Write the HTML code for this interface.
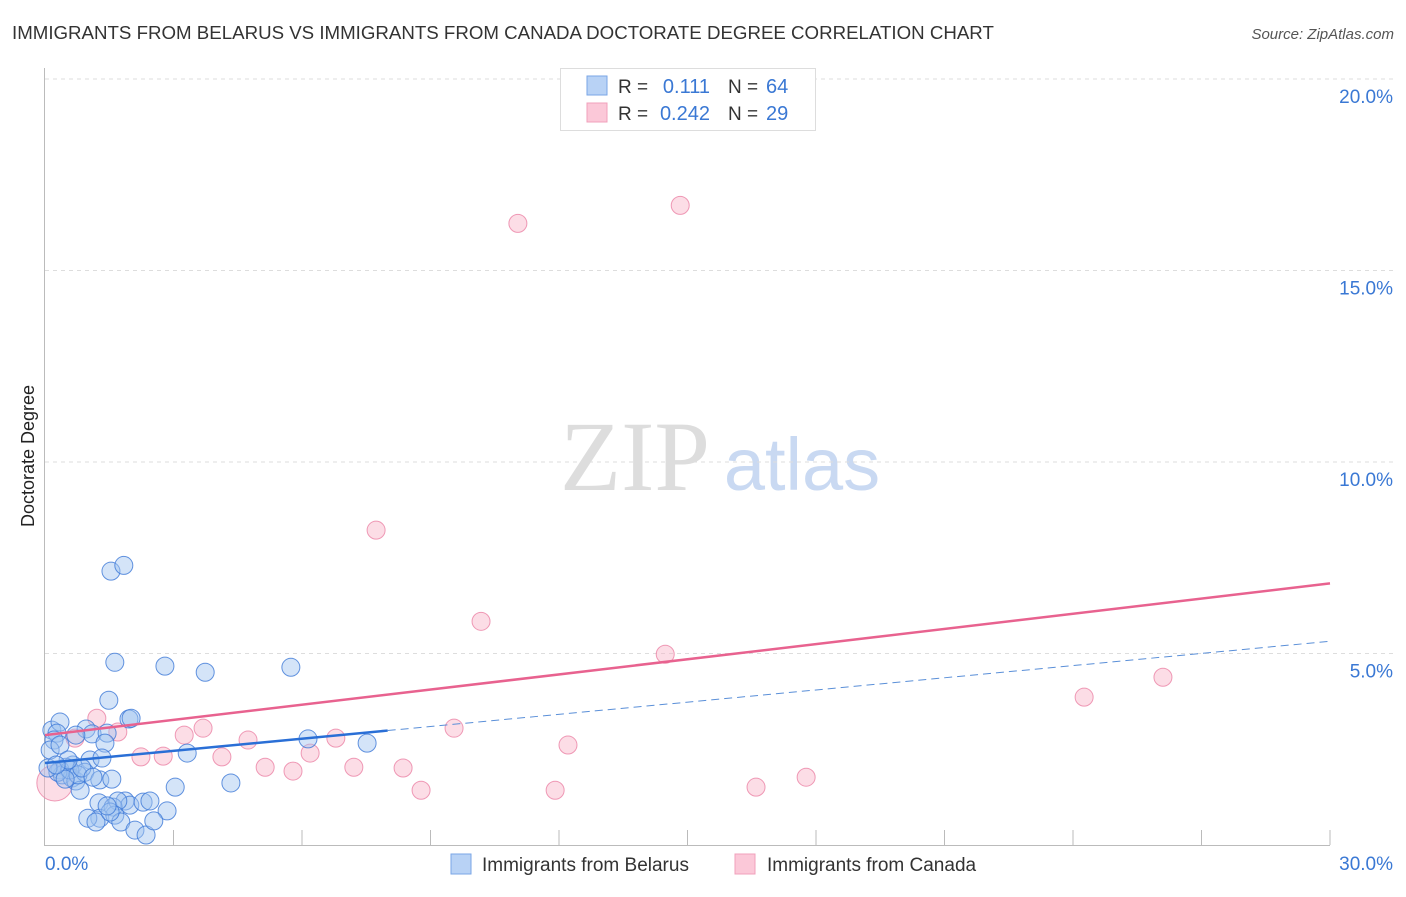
<!DOCTYPE html>
<html><head><meta charset="utf-8">
<style>
body{margin:0;background:#fff;font-family:"Liberation Sans",sans-serif;}
</style></head>
<body>
<svg id="chart" width="1406" height="892" viewBox="0 0 1406 892" xmlns="http://www.w3.org/2000/svg" font-family="Liberation Sans, sans-serif">
<text x="12" y="39" font-size="18.7" fill="#333">IMMIGRANTS FROM BELARUS VS IMMIGRANTS FROM CANADA DOCTORATE DEGREE CORRELATION CHART</text>
<text x="1394" y="39" font-size="15" fill="#555" font-style="italic" text-anchor="end">Source: ZipAtlas.com</text>
<text x="0" y="0" transform="translate(34,456) rotate(-90)" font-size="18" fill="#222" text-anchor="middle">Doctorate Degree</text>
<g>
<text x="635" y="490" font-size="100" fill="#ddd" style="font-family:'Liberation Serif',serif" text-anchor="middle">ZIP</text>
<text x="802" y="490" font-size="74" fill="#c9d9f2" text-anchor="middle">atlas</text>
</g>
<g id="grid"></g>
<g id="marks"></g>
<g id="lines"></g>
<g>
<rect x="560.5" y="68.5" width="255" height="62" fill="#fff" stroke="#ddd"/>
<rect x="587" y="76" width="20" height="19" fill="#b8d2f5" stroke="#7aa6e6"/>
<rect x="587" y="103" width="20" height="19" fill="#fbc8d8" stroke="#f0a0bb"/>
<text x="618" y="93" font-size="19" fill="#333">R = </text><text x="710" y="93" font-size="20" fill="#3a78d4" text-anchor="end">0.111</text>
<text x="728" y="93" font-size="19" fill="#333">N = </text><text x="766" y="93" font-size="20" fill="#3a78d4">64</text>
<text x="618" y="120" font-size="19" fill="#333">R = </text><text x="710" y="120" font-size="20" fill="#3a78d4" text-anchor="end">0.242</text>
<text x="728" y="120" font-size="19" fill="#333">N = </text><text x="766" y="120" font-size="20" fill="#3a78d4">29</text>
</g>
<g>
<rect x="451" y="854" width="20" height="20" fill="#b8d2f5" stroke="#7aa6e6"/>
<text x="482" y="871" font-size="19" fill="#333">Immigrants from Belarus</text>
<rect x="735" y="854" width="20" height="20" fill="#fbc8d8" stroke="#f0a0bb"/>
<text x="767" y="871" font-size="19" fill="#333">Immigrants from Canada</text>
</g>
</svg>
<script>
const yTicks=[5,10,15,20];
const yTickLabels=["5.0%","10.0%","15.0%","20.0%"];
const xTicks=[0,3,6,9,12,15,18,21,24,27,30];
const belarusX=[1.54,1.84,1.63,2.80,3.74,5.74,1.49,1.96,2.01,0.16,0.35,0.28,0.21,0.96,1.10,1.45,1.40,0.65,1.05,1.33,0.49,0.35,0.40,0.63,0.72,0.93,1.28,1.56,0.82,0.30,0.07,3.04,3.32,4.34,6.14,7.52,1.87,1.98,2.29,2.45,2.85,1.26,1.59,1.70,1.28,1.00,1.19,1.63,1.77,2.10,2.36,2.54,0.12,0.35,0.58,0.77,0.86,1.12,0.54,0.72,1.52,1.45,0.47,0.26];
const belarusY=[7.15,7.30,4.77,4.67,4.51,4.64,3.78,3.29,3.31,3.00,3.21,2.92,2.74,3.03,2.90,2.92,2.66,2.09,2.22,2.27,2.03,1.96,1.83,1.75,1.67,1.90,1.70,1.72,1.43,1.90,2.01,1.51,2.40,1.62,2.77,2.66,1.15,1.04,1.12,1.15,0.89,1.10,0.99,1.15,0.70,0.70,0.60,0.78,0.60,0.39,0.26,0.63,2.48,2.61,1.96,1.83,2.01,1.77,2.22,2.87,0.86,1.02,1.72,2.09];
const canadaX=[11.04,14.83,7.73,10.18,14.48,26.10,24.26,9.55,12.21,6.79,6.19,4.74,3.69,3.25,2.76,2.24,4.13,5.14,5.79,7.21,8.36,8.78,11.91,16.60,17.77,1.21,1.70,0.70,0.23];
const canadaY=[16.23,16.70,8.22,5.84,4.98,4.38,3.86,3.05,2.61,2.79,2.40,2.74,3.05,2.87,2.32,2.30,2.30,2.03,1.93,2.03,2.01,1.43,1.43,1.51,1.77,3.31,2.95,2.79,1.62];
const canadaSize=[1,1,1,1,1,1,1,1,1,1,1,1,1,1,1,1,1,1,1,1,1,1,1,1,1,1,1,1,2];
const belarusTrend=[2.14,0.106];
const canadaTrend=[2.87,0.132];
const belarusSolidEnd=8;

const X=v=>45+v*(1285/30);
const Y=v=>845-v*(766/20);
const NS="http://www.w3.org/2000/svg";
function mk(tag,attrs,parent){const e=document.createElementNS(NS,tag);for(const k in attrs)e.setAttribute(k,attrs[k]);parent.appendChild(e);return e;}
const grid=document.getElementById('grid');
const marks=document.getElementById('marks');
const lines=document.getElementById('lines');
const ax=mk('line',{x1:44.5,y1:68,x2:44.5,y2:845,stroke:'#bbb'},grid);


const bx=mk('line',{x1:44,y1:845.5,x2:1330,y2:845.5,stroke:'#bbb'},grid);


yTicks.forEach((t,i)=>{
  const g=mk('line',{x1:45,x2:1395,y1:Y(t),y2:Y(t),stroke:'#ddd','stroke-dasharray':'4,4'},grid);
  
  
  const l=mk('text',{x:1393,y:Y(t)+24,'font-size':19,fill:'#3a78d4','text-anchor':'end'},grid);
  l.textContent=yTickLabels[i];
  
  
});
xTicks.forEach(t=>{
  if(t===0)return;
  const k=mk('line',{x1:X(t),x2:X(t),y1:830,y2:845,stroke:'#bbb'},grid);
  
  
});
const x0=mk('text',{x:45,y:870,'font-size':19,fill:'#3a78d4'},grid);x0.textContent='0.0%';


const x1=mk('text',{x:1393,y:870,'font-size':19,fill:'#3a78d4','text-anchor':'end'},grid);x1.textContent='30.0%';


canadaX.forEach((v,i)=>{
  const c=mk('circle',{cx:X(v),cy:Y(canadaY[i]),r:9*canadaSize[i],fill:'rgba(248,180,200,0.45)',stroke:'rgba(235,130,165,0.8)','stroke-width':1},marks);
  
  
});
belarusX.forEach((v,i)=>{
  const c=mk('circle',{cx:X(v),cy:Y(belarusY[i]),r:9,fill:'rgba(160,195,240,0.45)',stroke:'rgba(60,120,215,0.8)','stroke-width':1},marks);
  
  
});
const pl=mk('line',{x1:X(0),y1:Y(canadaTrend[0]),x2:X(30),y2:Y(canadaTrend[0]+canadaTrend[1]*30),stroke:'#e8628f','stroke-width':2.5},lines);


const bl=mk('line',{x1:X(0),y1:Y(belarusTrend[0]),x2:X(belarusSolidEnd),y2:Y(belarusTrend[0]+belarusTrend[1]*belarusSolidEnd),stroke:'#2a6fd6','stroke-width':2.5},lines);


const bd=mk('line',{x1:X(belarusSolidEnd),y1:Y(belarusTrend[0]+belarusTrend[1]*belarusSolidEnd),x2:X(30),y2:Y(belarusTrend[0]+belarusTrend[1]*30),stroke:'#5a8fd8','stroke-width':1,'stroke-dasharray':'8,5'},lines);


</script>
</body></html>
